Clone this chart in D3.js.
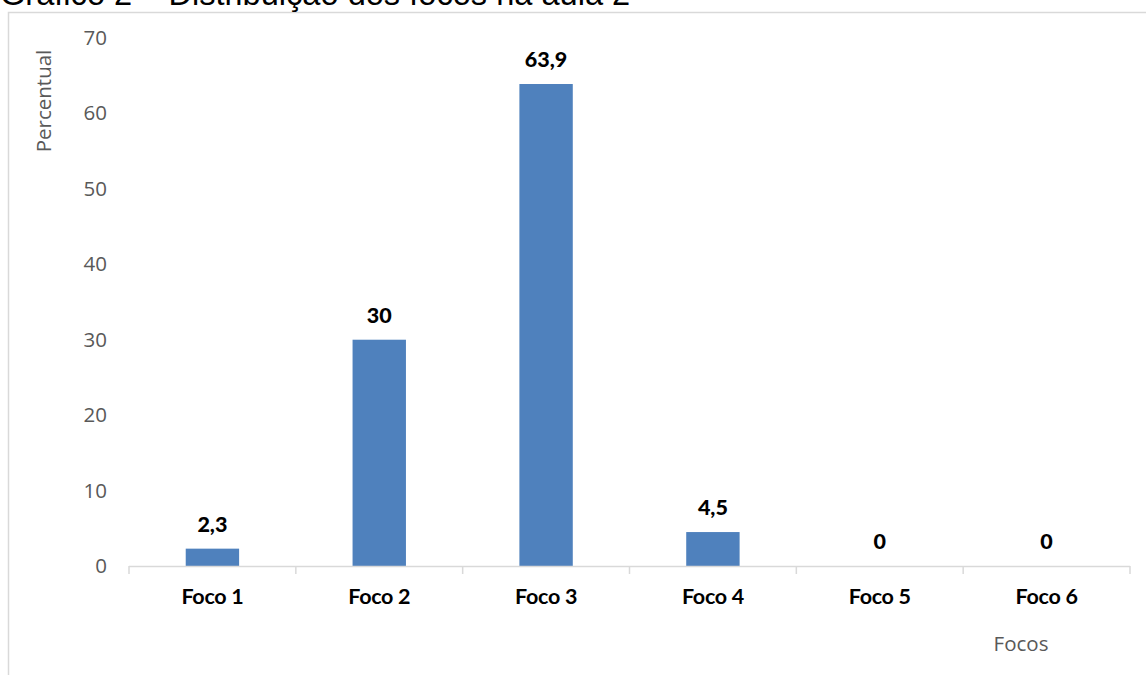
<!DOCTYPE html>
<html>
<head>
<meta charset="utf-8">
<script src="https://cdn.jsdelivr.net/npm/d3@7"></script>
<style>
  html, body { margin: 0; padding: 0; background: #fff; }
  svg { display: block; }
</style>
</head>
<body>
<svg id="chart" width="1146" height="675"></svg>
<script>
// Distribution of focuses in class 2 (percent)
const categories = ["Foco 1", "Foco 2", "Foco 3", "Foco 4", "Foco 5", "Foco 6"];
const values = [2.3, 30, 63.9, 4.5, 0, 0];
const valueLabels = ["2,3", "30", "63,9", "4,5", "0", "0"];
const yTicks = [0, 10, 20, 30, 40, 50, 60, 70];

const svg = d3.select("#chart");
const W = 1146, H = 675;

// Chart frame
svg.append("rect")
  .attr("x", 8.5).attr("y", 12.5)
  .attr("width", W).attr("height", H)
  .attr("fill", "#fff")
  .attr("stroke", "#d9d9d9").attr("stroke-width", 1.5);

// Title (partially above the frame)
svg.append("text")
  .attr("x", 0).attr("y", 5)
  .attr("font-family", "Liberation Sans, Arial, sans-serif")
  .attr("font-size", 32.6)
  .attr("fill", "#000")
  .text("Gráfico 2 – Distribuição dos focos na aula 2");

const plot = { left: 129, right: 1130, top: 38, bottom: 566 };

const x = d3.scaleBand()
  .domain(categories)
  .range([plot.left, plot.right])
  .paddingInner(0.68)
  .paddingOuter(0.34);

const y = d3.scaleLinear()
  .domain([0, 70])
  .range([plot.bottom, plot.top]);

// Y axis tick labels
const yAxis = svg.append("g")
  .attr("transform", `translate(107,0)`)
  .call(d3.axisLeft(y).tickValues(yTicks).tickSize(0).tickPadding(0).tickFormat(d3.format("d")));
yAxis.select(".domain").remove();
yAxis.selectAll("text")
  .attr("font-family", "Open Sans, sans-serif")
  .attr("font-size", 20.5)
  .attr("fill", "#595959");

// Bars
svg.append("g").selectAll("rect")
  .data(values)
  .join("rect")
  .attr("x", (d, i) => x(categories[i]))
  .attr("y", d => y(d))
  .attr("width", x.bandwidth())
  .attr("height", d => y(0) - y(d))
  .attr("fill", "#4f81bd");

// X axis line and category separators
const xAxisG = svg.append("g").attr("transform", `translate(0,${plot.bottom})`);
xAxisG.append("line")
  .attr("x1", plot.left).attr("x2", plot.right)
  .attr("y1", 0.5).attr("y2", 0.5)
  .attr("stroke", "#d9d9d9").attr("stroke-width", 1.5);
const boundaries = d3.range(categories.length + 1).map(i => plot.left + i * (plot.right - plot.left) / categories.length);
xAxisG.selectAll("line.tick")
  .data(boundaries)
  .join("line")
  .attr("class", "tick")
  .attr("x1", d => d).attr("x2", d => d)
  .attr("y1", 0).attr("y2", 8)
  .attr("stroke", "#d9d9d9").attr("stroke-width", 1.5);
xAxisG.selectAll("text")
  .data(categories)
  .join("text")
  .attr("x", d => x(d) + x.bandwidth() / 2)
  .attr("y", 38)
  .attr("text-anchor", "middle")
  .attr("font-family", "Lato, sans-serif")
  .attr("font-weight", "bold")
  .attr("font-size", 21.5)
  .attr("letter-spacing", -0.3)
  .attr("fill", "#000")
  .text(d => d);

// Value labels
svg.append("g").selectAll("text")
  .data(values)
  .join("text")
  .attr("x", (d, i) => x(categories[i]) + x.bandwidth() / 2)
  .attr("y", d => y(d) - 17)
  .attr("text-anchor", "middle")
  .attr("font-family", "Lato, sans-serif")
  .attr("font-weight", "900")
  .attr("font-size", 21.5)
  .attr("fill", "#000")
  .text((d, i) => valueLabels[i]);

// Axis titles
svg.append("text")
  .attr("transform", `translate(51,101) rotate(-90)`)
  .attr("text-anchor", "middle")
  .attr("font-family", "Open Sans, sans-serif")
  .attr("font-size", 20.5)
  .attr("fill", "#595959")
  .text("Percentual");

svg.append("text")
  .attr("x", 1021).attr("y", 651)
  .attr("text-anchor", "middle")
  .attr("font-family", "Open Sans, sans-serif")
  .attr("font-size", 20.5)
  .attr("fill", "#595959")
  .text("Focos");
</script>
</body>
</html>
